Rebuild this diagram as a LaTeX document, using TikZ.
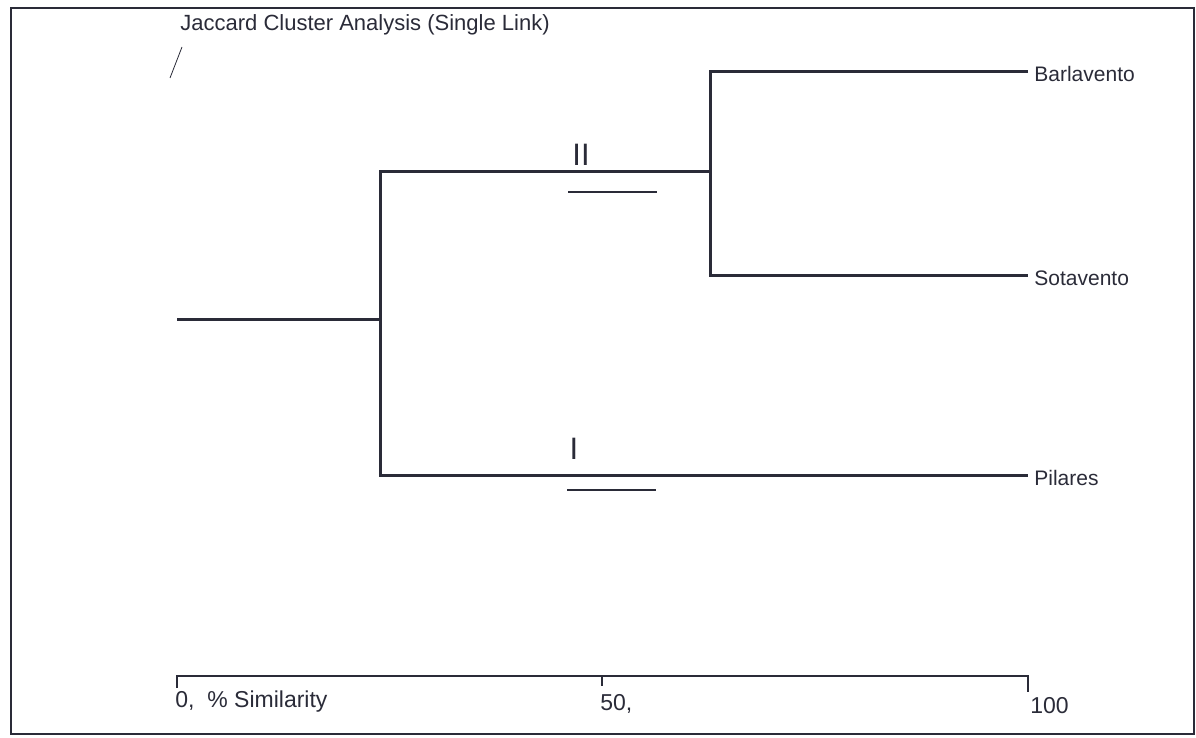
\documentclass[tikz,border=0pt]{standalone}
\usepackage{fontspec}
\setmainfont{Liberation Sans}
\usetikzlibrary{positioning}
\definecolor{pag}{HTML}{2A2B38}

\begin{document}
\begin{tikzpicture}[x=0.5pt,y=-0.5pt,font=\fontsize{10.5}{12}\selectfont,
	link/.style={draw=pag,line width=1.5pt},
	axisline/.style={draw=pag,line width=1pt},
	leaf/.style={anchor=west,inner sep=0pt,text=pag},
	axislabel/.style={leaf,font=\fontsize{11.5}{13}\selectfont},
	groupmark/.style={inner sep=0pt,text=pag,font=\fontsize{15.5}{17}\selectfont}]
	\useasboundingbox (0,0) rectangle (1196,738);
	%% frame round the whole figure
	\draw[pag,line width=1pt] (11,8) rectangle (1194,734);
	%% title and the small stroke under it
	\node[leaf,font=\fontsize{11}{13}\selectfont] (title) at (180,25) {Jaccard Cluster Analysis (Single Link)};
	\coordinate (strokeA) at (182,47);
	\coordinate (strokeB) at (170,78);
	\draw[pag,line width=0.4pt] (strokeA) -- (strokeB);
	
	%% junctions of the tree
	\coordinate (root) at (177,320);
	\coordinate (n1) at (380,320);
	\coordinate (n2) at (710,172);
	\coordinate (b) at (1028,72);
	\coordinate (s) at (1028,276);
	\coordinate (p) at (1028,475);
	
	%% leaf names
	\node[leaf] (barl) at (1034,74) {Barlavento};
	\node[leaf] (sota) at (1034,278) {Sotavento};
	\node[leaf] (pila) at (1034,478) {Pilares};
	
	\draw[link] (root) -- (n1);
	\draw[link] (n2) -- (n2 -| n1) |- (p);
	\draw[link] (b) -| (n2) |- (s);
	
	%% group marks
	\node[groupmark] (gII) at (581,155) {II};
	\node[groupmark] (gI) at (574,449) {I};
	\coordinate (uIIa) at (568,192);
	\coordinate (uIIb) at (657,192);
	\coordinate (uIa) at (567,490);
	\coordinate (uIb) at (656,490);
	\draw[axisline] (uIIa) -- (uIIb);
	\draw[axisline] (uIa) -- (uIb);
	
	%% similarity axis
	\coordinate (a0) at (177,676);
	\coordinate (a50) at (602,676);
	\coordinate (a100) at (1028,676);
	\draw[axisline] ([yshift=-6]a0) -- (a0) -- (a100) -- ([yshift=-8]a100);
	\draw[axisline] (a50) -- ([yshift=-5]a50);
	\node[axislabel] (lab0) at (175,702) {0,\ \ \% Similarity};
	\node[axislabel] (lab50) at (600,704) {50,};
	\node[axislabel] (lab100) at (1030,706) {100};
\end{tikzpicture}
\end{document}
